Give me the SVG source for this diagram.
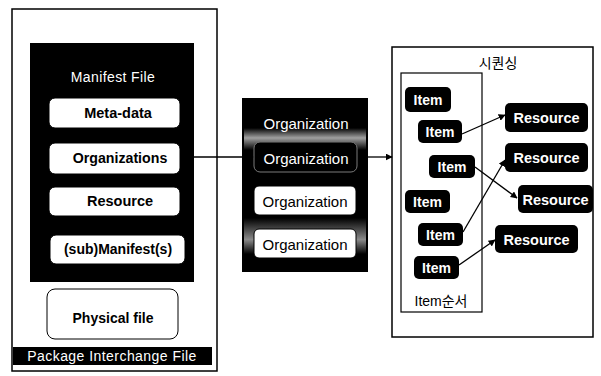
<svg xmlns="http://www.w3.org/2000/svg" width="601" height="376" viewBox="0 0 601 376">
  <style>
    .lbl { font-family: "Liberation Sans", "Noto Sans CJK KR", Arial, sans-serif; text-anchor: middle; dominant-baseline: central; }
    .wb { fill: #ffffff; stroke: #000; stroke-width: 1; }
    .blk { fill: #000; }
    .wt { fill: #ffffff; }
    .bt { fill: #000; }
    .bold { font-weight: bold; }
    .frame { fill: none; stroke: #000; stroke-width: 1.5; }
    .conn { stroke: #000; stroke-width: 1.3; fill: none; marker-end: url(#arr); }
  </style>
  <defs>
    <marker id="arr" viewBox="0 0 10 10" refX="9" refY="5" markerWidth="7" markerHeight="7" orient="auto" markerUnits="userSpaceOnUse">
      <path d="M0,0 L10,5 L0,10 z" fill="#000"/>
    </marker>
    <linearGradient id="gTop" x1="0" y1="0" x2="0" y2="1">
      <stop offset="0" stop-color="#000"/>
      <stop offset="0.45" stop-color="#a0a0a0"/>
      <stop offset="1" stop-color="#000"/>
    </linearGradient>
    <linearGradient id="gBot" x1="0" y1="0" x2="0" y2="1">
      <stop offset="0" stop-color="#000"/>
      <stop offset="0.6" stop-color="#8a8a8a"/>
      <stop offset="1" stop-color="#000"/>
    </linearGradient>
  </defs>
  <rect x="0" y="0" width="601" height="376" fill="#fff"/>

  <g id="package">
    <rect class="frame" x="12" y="9" width="205" height="362"/>
    <rect class="blk" x="13" y="347" width="199" height="18"/>
    <text class="lbl wt" x="112" y="356" font-size="14" letter-spacing="0.45">Package Interchange File</text>
  </g>

  <g id="manifest">
    <rect class="blk" x="30" y="43" width="164" height="239"/>
    <text class="lbl wt" x="113" y="77" font-size="14" letter-spacing="0.4">Manifest File</text>
  </g>
  <g id="metadata">
    <rect class="wb" x="49" y="98" width="131" height="30" rx="6" stroke="none"/>
    <text class="lbl bt bold" x="118" y="113" font-size="14.5">Meta-data</text>
  </g>
  <g id="organizations">
    <rect class="wb" x="49" y="143" width="131" height="31" rx="6" stroke="none"/>
    <text class="lbl bt bold" x="120" y="158" font-size="14.2">Organizations</text>
  </g>
  <g id="resource-m">
    <rect class="wb" x="49" y="187" width="131" height="29" rx="6" stroke="none"/>
    <text class="lbl bt bold" x="120" y="201" font-size="14.5">Resource</text>
  </g>
  <g id="submanifest">
    <rect class="wb" x="50" y="235" width="135" height="29" rx="6" stroke="none"/>
    <text class="lbl bt bold" x="118" y="249" font-size="14">(sub)Manifest(s)</text>
  </g>
  <g id="physical">
    <rect class="wb" x="47" y="289" width="131" height="50" rx="8" stroke-width="1.5"/>
    <text class="lbl bt bold" x="113" y="318" font-size="14">Physical file</text>
  </g>

  <g id="organization-box">
    <rect class="blk" x="242" y="98" width="126" height="174"/>
    <rect x="244" y="128" width="122" height="22" fill="url(#gTop)"/>
    <rect x="244" y="218" width="122" height="36" fill="url(#gBot)"/>
    <text class="lbl wt" x="306" y="123" font-size="15">Organization</text>
  </g>
  <g id="org1">
    <rect class="blk" x="254" y="142" width="103" height="30" rx="6" stroke="#7a7a7a" stroke-width="1"/>
    <text class="lbl wt" x="306" y="158" font-size="15">Organization</text>
  </g>
  <g id="org2">
    <rect class="wb" x="254" y="186" width="102" height="29" rx="5"/>
    <text class="lbl bt" x="305" y="201" font-size="15">Organization</text>
  </g>
  <g id="org3">
    <rect class="wb" x="254" y="229" width="102" height="29" rx="5"/>
    <text class="lbl bt" x="305" y="244" font-size="15">Organization</text>
  </g>

  <g id="sequencing">
    <rect class="frame" x="392" y="47" width="201" height="290"/>
    <text class="lbl bt" x="498" y="63" font-size="14">시퀀싱</text>
  </g>
  <g id="item-order">
    <rect fill="none" stroke="#000" stroke-width="1.2" x="401" y="73" width="81" height="239"/>
    <text class="lbl bt" x="441" y="301" font-size="14">Item순서</text>
  </g>
  <g id="item1"><rect class="blk" x="405" y="87" width="46" height="25" rx="5"/><text class="lbl wt bold" x="428" y="100" font-size="14">Item</text></g>
  <g id="item2"><rect class="blk" x="418" y="120" width="44" height="23" rx="5"/><text class="lbl wt bold" x="440" y="132" font-size="14">Item</text></g>
  <g id="item3"><rect class="blk" x="429" y="155" width="46" height="23" rx="5"/><text class="lbl wt bold" x="452" y="167" font-size="14">Item</text></g>
  <g id="item4"><rect class="blk" x="405" y="190" width="45" height="23" rx="5"/><text class="lbl wt bold" x="427.5" y="202" font-size="14">Item</text></g>
  <g id="item5"><rect class="blk" x="418" y="223" width="45" height="23" rx="5"/><text class="lbl wt bold" x="440.5" y="235" font-size="14">Item</text></g>
  <g id="item6"><rect class="blk" x="414" y="256" width="45" height="23" rx="5"/><text class="lbl wt bold" x="436.5" y="268" font-size="14">Item</text></g>

  <g id="res1"><rect class="blk" x="505" y="103" width="83" height="29" rx="5"/><text class="lbl wt bold" x="546.5" y="118" font-size="14.5">Resource</text></g>
  <g id="res2"><rect class="blk" x="505" y="143" width="83" height="29" rx="5"/><text class="lbl wt bold" x="546.5" y="158" font-size="14.5">Resource</text></g>
  <g id="res3"><rect class="blk" x="518" y="185" width="75" height="28" rx="5"/><text class="lbl wt bold" x="555.5" y="200" font-size="14.5">Resource</text></g>
  <g id="res4"><rect class="blk" x="495" y="225" width="83" height="28" rx="5"/><text class="lbl wt bold" x="536.5" y="240" font-size="14.5">Resource</text></g>

  <g id="connectors">
    <line class="conn" x1="194" y1="157" x2="253" y2="157"/>
    <line class="conn" x1="368" y1="157" x2="392" y2="157"/>
    <line class="conn" x1="462" y1="134" x2="505" y2="115"/>
    <line class="conn" x1="475" y1="167" x2="517" y2="198"/>
    <line class="conn" x1="463" y1="232" x2="505" y2="160"/>
    <line class="conn" x1="459" y1="265" x2="495" y2="240"/>
  </g>
</svg>
